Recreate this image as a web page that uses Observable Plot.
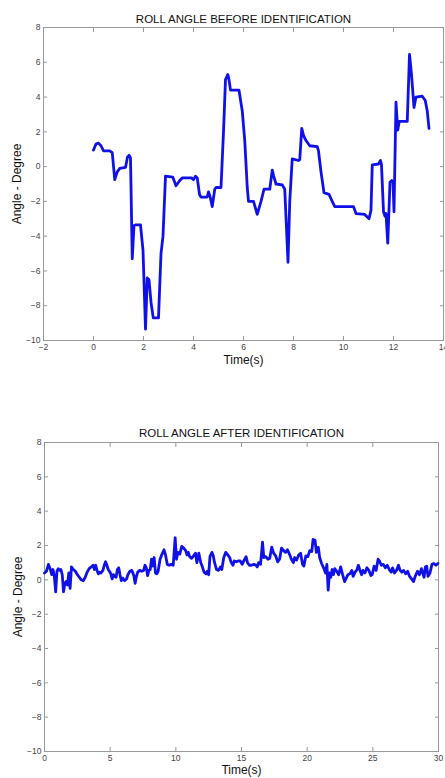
<!DOCTYPE html>
<html><head><meta charset="utf-8">
<script src="https://cdn.jsdelivr.net/npm/d3@7"></script>
<script src="https://cdn.jsdelivr.net/npm/@observablehq/plot@0.6"></script>
<style>body{margin:0;background:#fff;width:445px;} svg{display:block;}</style>
</head><body><div id="c"></div>
<script>
// ---- Data: roll angle before identification ----
const beforeTime = [0.0,0.1,0.2,0.3,0.4,0.65,0.75,0.85,0.95,1.05,1.28,1.36,1.42,1.48,1.55,1.62,1.68,1.88,1.98,2.08,2.15,2.22,2.3,2.39,2.6,2.7,2.78,2.88,3.17,3.3,3.45,3.55,3.92,4.0,4.08,4.15,4.24,4.3,4.55,4.6,4.66,4.75,4.85,4.9,5.1,5.2,5.28,5.37,5.42,5.48,5.82,5.95,6.05,6.15,6.2,6.4,6.55,6.7,6.82,7.05,7.15,7.2,7.3,7.55,7.65,7.78,7.85,7.95,8.2,8.25,8.33,8.4,8.5,8.65,8.95,9.0,9.1,9.22,9.42,9.55,9.65,10.4,10.5,10.85,10.95,11.02,11.1,11.15,11.4,11.48,11.52,11.6,11.66,11.7,11.77,11.86,11.93,11.98,12.02,12.1,12.17,12.23,12.55,12.64,12.72,12.82,12.9,13.15,13.27,13.35,13.42];
const beforeAngle = [0.95,1.3,1.35,1.2,0.9,0.9,0.8,-0.75,-0.3,-0.1,-0.05,0.55,0.65,0.5,-5.3,-3.4,-3.35,-3.35,-4.8,-9.35,-6.4,-6.5,-7.8,-8.7,-8.7,-5.0,-4.0,-0.55,-0.6,-1.1,-0.8,-0.65,-0.65,-0.75,-0.55,-0.65,-1.6,-1.75,-1.75,-1.45,-1.7,-2.3,-1.3,-1.2,-1.2,2.0,5.0,5.3,5.0,4.4,4.4,3.2,1.5,-1.2,-2.0,-2.0,-2.75,-2.0,-1.3,-1.3,-0.2,-0.5,-1.0,-1.05,-1.3,-5.5,-2.0,0.45,0.35,0.4,2.2,1.8,1.5,1.2,1.15,0.9,-0.3,-1.5,-1.6,-2.0,-2.3,-2.3,-2.7,-2.75,-2.9,-3.0,-2.5,0.1,0.15,0.35,0.1,-2.6,-2.85,-2.7,-4.4,-0.9,-0.8,-0.9,-2.6,3.7,2.1,2.6,2.6,6.45,5.3,3.4,4.0,4.05,3.8,3.2,2.2];

// ---- Data: roll angle after identification ----
const afterTime = [0.0,0.15,0.3,0.45,0.55,0.65,0.75,0.85,0.95,1.05,1.15,1.25,1.35,1.45,1.55,1.65,1.75,1.85,1.95,2.05,2.2,2.35,2.5,2.65,2.8,2.95,3.1,3.25,3.4,3.55,3.7,3.8,3.9,4.0,4.1,4.2,4.3,4.45,4.55,4.65,4.75,4.85,4.95,5.05,5.15,5.25,5.35,5.45,5.55,5.65,5.75,5.85,5.95,6.1,6.25,6.35,6.5,6.65,6.8,6.9,7.0,7.1,7.25,7.4,7.55,7.65,7.75,7.85,7.95,8.05,8.15,8.25,8.35,8.45,8.55,8.65,8.8,8.95,9.1,9.2,9.35,9.5,9.65,9.8,9.95,10.05,10.15,10.3,10.45,10.6,10.75,10.85,10.95,11.05,11.2,11.35,11.5,11.6,11.75,11.9,12.0,12.15,12.3,12.4,12.5,12.6,12.75,12.85,12.95,13.1,13.25,13.4,13.5,13.65,13.8,13.95,14.1,14.2,14.35,14.45,14.6,14.75,14.9,15.05,15.2,15.35,15.45,15.6,15.75,15.95,16.1,16.2,16.3,16.45,16.6,16.7,16.85,17.0,17.15,17.3,17.45,17.6,17.75,17.9,18.05,18.2,18.35,18.5,18.65,18.8,18.95,19.05,19.2,19.35,19.5,19.65,19.75,19.9,20.05,20.2,20.35,20.45,20.6,20.7,20.85,20.95,21.1,21.25,21.4,21.5,21.6,21.7,21.8,21.9,22.0,22.1,22.25,22.4,22.55,22.7,22.85,22.95,23.1,23.25,23.4,23.5,23.65,23.8,23.9,24.0,24.15,24.25,24.4,24.55,24.7,24.85,24.95,25.1,25.25,25.4,25.5,25.65,25.8,25.95,26.1,26.25,26.4,26.5,26.65,26.8,26.95,27.05,27.2,27.35,27.5,27.65,27.8,27.95,28.1,28.25,28.4,28.55,28.7,28.8,28.9,29.0,29.1,29.2,29.35,29.5,29.65,29.8,29.95];
const afterAngle = [0.4,0.5,0.9,0.6,0.3,0.6,0.2,-0.7,0.5,0.65,0.55,0.6,0.3,-0.7,-0.2,-0.1,-0.3,0.4,-0.5,0.75,0.6,0.5,0.3,0.15,0.0,-0.05,0.15,0.45,0.65,0.75,0.85,0.6,0.85,0.55,0.35,0.45,0.4,0.55,0.85,1.05,0.85,0.6,0.5,0.35,0.05,0.3,0.2,0.15,0.6,0.7,0.3,-0.05,0.1,-0.05,0.05,0.3,0.5,0.55,0.25,-0.2,0.2,0.45,0.55,0.5,0.55,0.85,0.7,0.25,0.55,0.6,1.2,0.8,1.3,0.4,0.35,0.5,1.2,1.5,1.75,1.5,0.9,0.85,0.9,0.85,2.45,1.2,1.6,1.5,1.95,1.85,1.7,1.45,1.6,1.35,1.25,1.4,1.55,1.0,1.55,1.0,0.8,0.45,0.35,0.5,0.3,1.35,1.6,1.4,1.0,0.6,0.55,0.75,0.6,1.3,1.6,1.45,1.3,1.05,0.85,1.1,1.05,1.1,1.1,0.9,1.15,1.35,1.0,0.85,0.85,0.9,0.85,0.75,1.0,0.9,2.2,1.3,1.35,1.2,1.25,1.9,1.55,1.4,1.05,1.2,1.85,1.7,1.6,1.75,1.5,1.2,1.0,1.3,1.15,1.45,1.55,0.9,0.8,1.4,1.35,1.7,1.65,2.35,2.3,1.6,1.9,1.3,0.95,0.7,0.4,0.9,-0.6,0.4,0.15,0.6,0.3,0.65,0.5,0.3,0.75,0.3,-0.1,0.05,0.3,0.35,0.55,0.2,0.45,0.6,0.85,0.6,0.3,0.55,0.4,0.7,0.55,0.25,0.3,0.8,0.55,1.2,1.1,0.85,0.9,0.7,0.85,0.6,0.45,0.7,0.4,0.55,0.85,0.6,0.45,0.55,0.35,0.5,0.2,0.05,-0.1,0.25,0.5,0.3,0.65,0.4,0.15,0.75,0.8,0.2,0.4,0.9,0.95,0.85,0.95];

// ---- Axes ticks & labels ----
const yTicks = [-10,-8,-6,-4,-2,0,2,4,6,8];
const beforeXTicks = [-2,0,2,4,6,8,10,12,14];
const afterXTicks = [0,5,10,15,20,25,30];
const titles = ["ROLL ANGLE BEFORE IDENTIFICATION", "ROLL ANGLE AFTER IDENTIFICATION"];
const xLabel = "Time(s)";
const yLabel = "Angle - Degree";

const FONT = "'Liberation Sans', Arial, Helvetica, sans-serif";
const LINE = "#1010e8";

function chart({t, v, xDomain, xTicks, height, mt, mb, ml, mr, title, titleDy, xLabelDy}) {
  const data = t.map((d, i) => ({t: d, v: v[i]}));
  return Plot.plot({
    width: 445, height,
    marginTop: mt, marginBottom: mb, marginLeft: ml, marginRight: mr,
    style: {fontFamily: FONT, background: "#fff", overflow: "visible"},
    x: {domain: xDomain},
    y: {domain: [-10, 8]},
    marks: [
      Plot.frame({stroke: "#9a9a9a", strokeWidth: 1}),
      Plot.axisX(xTicks, {anchor: "bottom", tickSize: -4, tickPadding: 7, stroke: "#999", fill: "#444", fontSize: 8.5, label: null}),
      Plot.axisX(xTicks, {anchor: "top", tickSize: -4, stroke: "#999", fill: "none", label: null}),
      Plot.axisY(yTicks, {anchor: "left", tickSize: -4, tickPadding: 7, stroke: "#999", fill: "#444", fontSize: 8.5, label: null}),
      Plot.axisY(yTicks, {anchor: "right", tickSize: -4, stroke: "#999", fill: "none", label: null}),
      Plot.line(data, {x: "t", y: "v", stroke: LINE, strokeWidth: 2.8, strokeLinejoin: "round"}),
      Plot.text([title], {text: d => d, frameAnchor: "top", dy: titleDy, fontSize: 11.5, fill: "#111"}),
      Plot.text([xLabel], {text: d => d, frameAnchor: "bottom", lineAnchor: "top", dy: xLabelDy, fontSize: 12, fill: "#111"}),
      Plot.text([yLabel], {text: d => d, frameAnchor: "left", textAnchor: "middle", rotate: -90, dx: -26, fontSize: 12, fill: "#111"})
    ]
  });
}

const c = document.getElementById("c");
c.append(chart({t: beforeTime, v: beforeAngle, xDomain: [-2, 14], xTicks: beforeXTicks,
  height: 390, mt: 27, mb: 50, ml: 43, mr: 2, title: titles[0], titleDy: -13, xLabelDy: 15}));
c.append(chart({t: afterTime, v: afterAngle, xDomain: [0, 30], xTicks: afterXTicks,
  height: 388, mt: 52, mb: 27, ml: 44, mr: 7, title: titles[1], titleDy: -14, xLabelDy: 14}));
</script></body></html>
